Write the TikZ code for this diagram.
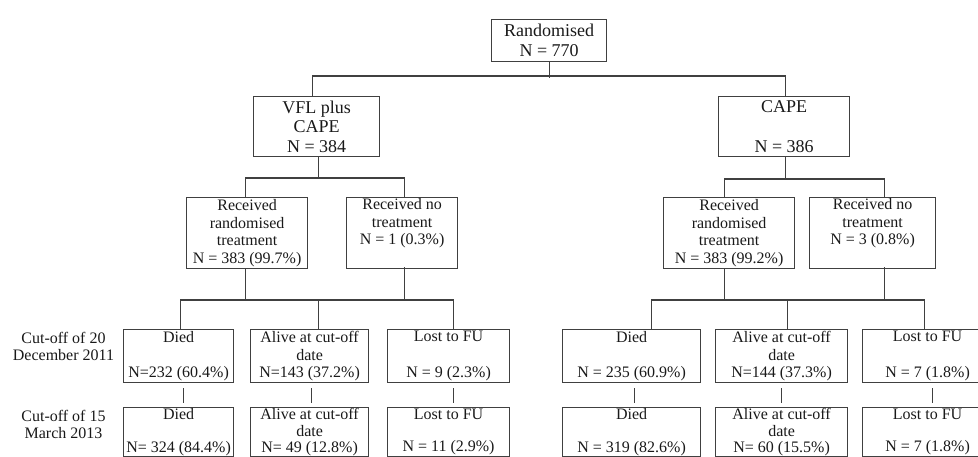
\documentclass[tikz,border=0pt]{standalone}
\usepackage{fontspec}
\setmainfont{Liberation Serif}
\begin{document}
\begin{tikzpicture}[x=1pt,y=-1pt,
  box/.style={draw=black!75, line width=1.2pt, inner sep=0pt, align=center, anchor=north west, text=black!90,
    font=\fontsize{16}{17.7}\selectfont},
  bigbox/.style={box, font=\fontsize{18}{19.7}\selectfont},
  lowbox/.style={box, font=\fontsize{16}{16.2}\selectfont, minimum height=49pt},
  link/.style={draw=black!75, line width=1.2pt},
  lbl/.style={align=center, inner sep=0pt, anchor=north, text=black!90, font=\fontsize{16}{17.2}\selectfont}]
\useasboundingbox (0,0) rectangle (978,456);
\clip (0,0) rectangle (978,456);
% level 0-1
\node[bigbox, minimum width=115pt, minimum height=42pt] (rand) at (491,19) {Randomised\\N = 770};
\node[bigbox, minimum width=126pt, minimum height=60pt] (vfl) at (253,96) {VFL plus\\CAPE\\N = 384};
\node[bigbox, minimum width=131pt, minimum height=60pt] (cape) at (718,96) {CAPE\\\mbox{}\\N = 386};
% level 2
\node[box, minimum width=121pt, minimum height=71pt] (recL) at (186,197) {Received\\randomised\\treatment\\N = 383 (99.7\%)};
\node[box, minimum width=111pt, minimum height=71pt] (noL) at (346,197) {Received no\\treatment\\N = 1 (0.3\%)\\\strut};
\node[box, minimum width=131pt, minimum height=71pt] (recR) at (663,197) {Received\\randomised\\treatment\\N = 383 (99.2\%)};
\node[box, minimum width=126pt, minimum height=71pt] (noR) at (809,197) {Received no\\treatment\\N = 3 (0.8\%)\\\strut};
% row labels
\node[lbl] (lab1) at (63.5,332) {Cut-off of 20\\December 2011};
\node[lbl] (lab2) at (63.5,410) {Cut-off of 15\\March 2013};
% row 1
\node[box, minimum width=110pt, minimum height=53pt] (diedL1) at (123,329) {Died\\\mbox{}\\N=232 (60.4\%)};
\node[box, minimum width=118pt, minimum height=53pt] (aliveL1) at (250,329) {Alive at cut-off\\date\\N=143 (37.2\%)};
\node[box, minimum width=122pt, minimum height=53pt] (lostL1) at (387,329) {Lost to FU\\\mbox{}\\N = 9 (2.3\%)};
\node[box, minimum width=138pt, minimum height=53pt] (diedR1) at (562,329) {Died\\\mbox{}\\N = 235 (60.9\%)};
\node[box, minimum width=132pt, minimum height=53pt] (aliveR1) at (715,329) {Alive at cut-off\\date\\N=144 (37.3\%)};
\node[box, minimum width=130pt, minimum height=53pt] (lostR1) at (862,329) {Lost to FU\\\mbox{}\\N = 7 (1.8\%)};
% row 2
\node[lowbox, minimum width=110pt] (diedL2) at (123,407) {Died\\\mbox{}\\N= 324 (84.4\%)};
\node[lowbox, minimum width=118pt] (aliveL2) at (250,407) {Alive at cut-off\\date\\N= 49 (12.8\%)};
\node[lowbox, minimum width=122pt] (lostL2) at (387,407) {Lost to FU\\\mbox{}\\N = 11 (2.9\%)};
\node[lowbox, minimum width=138pt] (diedR2) at (562,407) {Died\\\mbox{}\\N = 319 (82.6\%)};
\node[lowbox, minimum width=132pt] (aliveR2) at (715,407) {Alive at cut-off\\date\\N= 60 (15.5\%)};
\node[lowbox, minimum width=130pt] (lostR2) at (862,407) {Lost to FU\\\mbox{}\\N = 7 (1.8\%)};
% connectors level 0-1
\draw[link] (rand.south) -- ++(0,16);
\draw[link] ([xshift=-4pt]vfl.north) -- ++(0,-20) -| ([xshift=1.5pt]cape.north);
% level 1-2 left
\draw[link] ([xshift=2pt]vfl.south) -- ++(0,22);
\draw[link] ([xshift=-1.5pt]recL.north) -- ++(0,-19) -| ([xshift=2.5pt]noL.north);
% level 1-2 right
\draw[link] ([xshift=1.5pt]cape.south) -- ++(0,23);
\draw[link] ([xshift=-4.5pt]recR.north) -- ++(0,-18) -| ([xshift=12pt]noR.north);
% level 2-3 left
\draw[link] ([xshift=-1.5pt]recL.south) -- ++(0,32);
\draw[link] ([xshift=2.5pt,yshift=2pt]noL.south) -- ++(0,34);
\draw[link] ([xshift=2pt]diedL1.north) -- ++(0,-29) -| ([xshift=5pt]lostL1.north);
\draw[link] ([xshift=9pt]aliveL1.north) -- ++(0,-29);
% level 2-3 right
\draw[link] ([xshift=-4.5pt]recR.south) -- ++(0,32);
\draw[link] ([xshift=12pt,yshift=2pt]noR.south) -- ++(0,34);
\draw[link] ([xshift=20pt]diedR1.north) -- ++(0,-29) -| ([xshift=-3pt]lostR1.north);
\draw[link] ([xshift=6pt]aliveR1.north) -- ++(0,-29);
% row 1 - row 2
\draw[link] ([xshift=5pt,yshift=-5pt]diedL1.south) -- ([xshift=5pt,yshift=4pt]diedL2.north);
\draw[link] ([xshift=2pt,yshift=-5pt]aliveL1.south) -- ([xshift=2pt,yshift=4pt]aliveL2.north);
\draw[link] ([xshift=5pt,yshift=-5pt]lostL1.south) -- ([xshift=5pt,yshift=4pt]lostL2.north);
\draw[link] ([xshift=3pt,yshift=-5pt]diedR1.south) -- ([xshift=3pt,yshift=4pt]diedR2.north);
\draw[link] ([yshift=-5pt]aliveR1.south) -- ([yshift=4pt]aliveR2.north);
\draw[link] ([xshift=5pt,yshift=-5pt]lostR1.south) -- ([xshift=5pt,yshift=4pt]lostR2.north);
\end{tikzpicture}
\end{document}
